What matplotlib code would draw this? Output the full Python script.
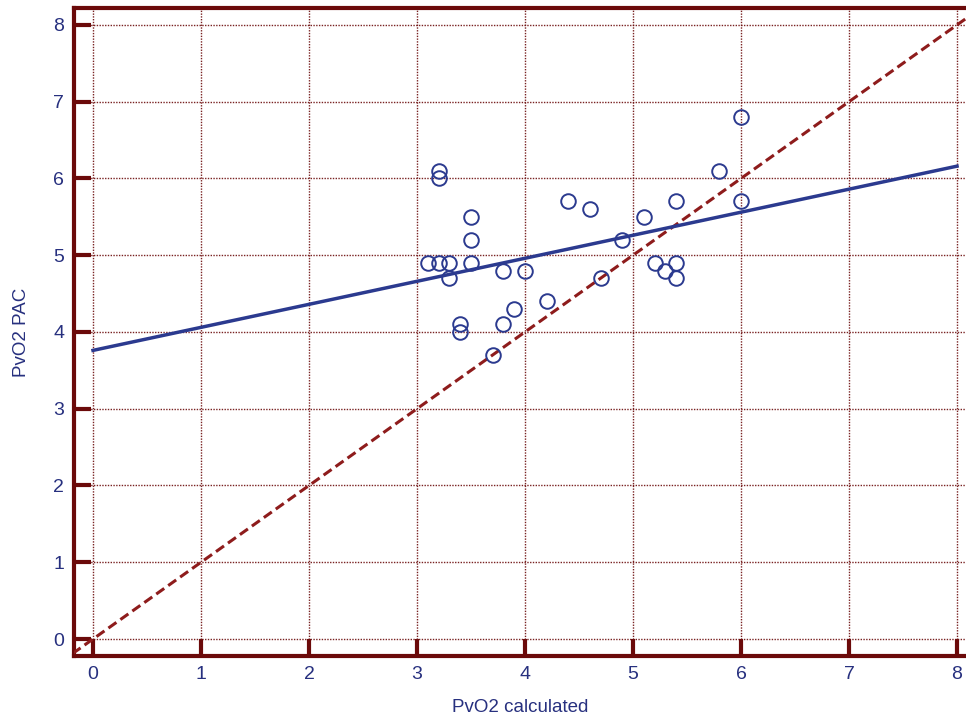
import matplotlib
matplotlib.use("Agg")
import matplotlib.pyplot as plt
import numpy as np

plt.rcParams["font.family"] = ["Liberation Sans", "DejaVu Sans"]

# PvO2 calculated vs PvO2 from pulmonary artery catheter (kPa)
pvo2_calc = [3.2, 3.2, 3.5, 3.5, 3.1, 3.2, 3.3, 3.5, 3.3, 3.8, 4.0,
             3.4, 3.4, 3.8, 3.9, 4.2, 3.7, 4.4, 4.6, 4.7, 4.9, 5.1,
             5.2, 5.3, 5.4, 5.4, 5.4, 5.8, 6.0, 6.0]
pvo2_pac = [6.1, 6.0, 5.5, 5.2, 4.9, 4.9, 4.9, 4.9, 4.7, 4.8, 4.8,
            4.1, 4.0, 4.1, 4.3, 4.4, 3.7, 5.7, 5.6, 4.7, 5.2, 5.5,
            4.9, 4.8, 4.9, 4.7, 5.7, 6.1, 6.8, 5.7]

# regression line
fit_intercept = 3.76
fit_slope = 0.30
fit_x = [0, 8]

ticks = list(range(0, 9))

SPINE = "#6b0a0a"
NAVY = "#2b3a8f"
TXT = "#27307f"
DASH = "#8e1c1c"

fig = plt.figure(figsize=(9.66, 7.2), dpi=100, facecolor="white")
ax = fig.add_axes([74 / 966, 64 / 720, 1 - 74 / 966, (656 - 8) / 720])

ax.set_xlim(-0.176, 8.083)
ax.set_ylim(-0.221, 8.22)

ax.grid(True, color=SPINE, linestyle=(0, (1, 1)), linewidth=1.0, alpha=0.9)
ax.set_axisbelow(True)

lim = np.array([-0.3, 8.4])
ax.plot(lim, lim, color=DASH, linestyle=(0, (3.2, 1.6)), linewidth=2.2, zorder=3)

fx = np.array(fit_x)
ax.plot(fx, fit_intercept + fit_slope * fx, color=NAVY, linewidth=2.5, zorder=4)

ax.plot(pvo2_calc, pvo2_pac, linestyle="none", marker="o", markersize=10.5,
        markerfacecolor="none", markeredgecolor=NAVY, markeredgewidth=1.4, zorder=5)

ax.set_xticks(ticks)
ax.set_yticks(ticks)
ax.tick_params(direction="in", length=12.5, width=3, color=SPINE,
               labelsize=14, labelcolor=TXT, pad=7)

for side in ("left", "bottom", "top"):
    ax.spines[side].set_color(SPINE)
    ax.spines[side].set_linewidth(3)
ax.spines["right"].set_visible(False)

ax.set_xlabel("PvO2 calculated", fontsize=13.5, color=TXT, labelpad=12)
ax.set_ylabel("PvO2 PAC", fontsize=13.5, color=TXT, labelpad=17)

fig.savefig("out.png", dpi=100, facecolor="white")
